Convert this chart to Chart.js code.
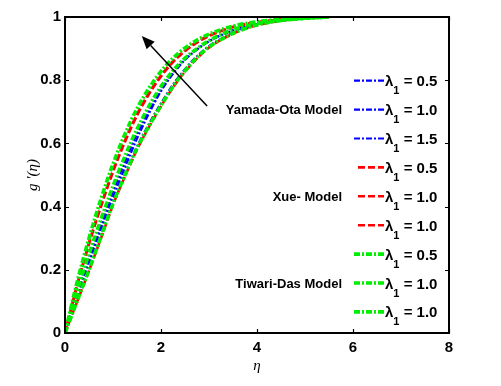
<!DOCTYPE html>
<html><head><meta charset="utf-8">
<script src="https://cdn.jsdelivr.net/npm/chart.js@4"></script>
<style>html,body{margin:0;padding:0;background:#fff}#wrap{width:501px;height:386px}</style>
</head><body><div id="wrap"><canvas id="c" width="501" height="386"></canvas></div>
<script>
// η grid
const eta = [0, 0.25, 0.5, 0.75, 1.0, 1.25, 1.5, 1.75, 2.0, 2.25, 2.5, 2.75, 3.0, 3.5, 4.0, 4.5, 5.0, 5.5];
// Yamada-Ota model
const blue05 = [0, 0.102, 0.205, 0.31, 0.415, 0.505, 0.59, 0.662, 0.727, 0.786, 0.835, 0.876, 0.908, 0.95, 0.976, 0.989, 0.996, 1.0];
const blue10 = [0, 0.115, 0.225, 0.33, 0.43, 0.525, 0.615, 0.695, 0.765, 0.82, 0.864, 0.897, 0.923, 0.957, 0.977, 0.989, 0.996, 1.0];
const blue15 = [0, 0.122, 0.237, 0.345, 0.447, 0.542, 0.63, 0.706, 0.772, 0.825, 0.867, 0.898, 0.924, 0.958, 0.978, 0.99, 0.996, 1.0];
// Xue model
const red05 = [0, 0.098, 0.197, 0.3, 0.405, 0.496, 0.58, 0.652, 0.717, 0.777, 0.827, 0.869, 0.903, 0.947, 0.974, 0.988, 0.996, 1.0];
const red10a = [0, 0.15, 0.285, 0.405, 0.515, 0.61, 0.692, 0.76, 0.815, 0.86, 0.894, 0.921, 0.941, 0.968, 0.983, 0.992, 0.997, 1.0];
const red10b = [0, 0.148, 0.282, 0.40, 0.51, 0.605, 0.688, 0.756, 0.812, 0.857, 0.892, 0.919, 0.94, 0.968, 0.983, 0.992, 0.997, 1.0];
// Tiwari-Das model
const green05 = [0, 0.1, 0.2, 0.305, 0.41, 0.5, 0.585, 0.655, 0.72, 0.78, 0.83, 0.872, 0.905, 0.948, 0.975, 0.989, 0.996, 1.0];
const green10a = [0, 0.13, 0.25, 0.36, 0.465, 0.56, 0.645, 0.718, 0.78, 0.83, 0.87, 0.9, 0.925, 0.96, 0.979, 0.99, 0.996, 1.0];
const green10b = [0, 0.16, 0.30, 0.425, 0.535, 0.63, 0.71, 0.775, 0.828, 0.87, 0.902, 0.927, 0.946, 0.971, 0.985, 0.993, 0.998, 1.0];

const lambdaLabels = ['0.5', '1.0', '1.5', '0.5', '1.0', '1.0', '0.5', '1.0', '1.0'];
const modelNames = ['Yamada-Ota Model', 'Xue- Model', 'Tiwari-Das Model'];
const xTickValues = [0, 2, 4, 6, 8];
const xTickLabels = ['0', '2', '4', '6', '8'];
const yTickValues = [0, 0.2, 0.4, 0.6, 0.8, 1];
const yTickLabels = ['0', '0.2', '0.4', '0.6', '0.8', '1'];
// arrow annotation (data coords): tail -> tip
const arrowTail = [2.96, 0.718];
const arrowTip = [1.6, 0.94];

const SANS = '"Liberation Sans", Arial, Helvetica, sans-serif';
const SERIF = '"Liberation Serif", "Times New Roman", serif';

const seriesList = [blue05, blue10, blue15, red05, red10a, red10b, green05, green10a, green10b];
const styles = [
  {c: '#0000ff', w: 2.2, d: [6, 2, 2, 2]},
  {c: '#0000ff', w: 2.2, d: [6, 2, 2, 2]},
  {c: '#0000ff', w: 2.2, d: [6, 2, 2, 2]},
  {c: '#ff0000', w: 2.6, d: [7, 3]},
  {c: '#ff0000', w: 2.6, d: [7, 3]},
  {c: '#ff0000', w: 2.6, d: [7, 3]},
  {c: '#00ee00', w: 3.6, d: [6, 2, 2, 2]},
  {c: '#00ee00', w: 3.6, d: [6, 2, 2, 2]},
  {c: '#00ee00', w: 3.6, d: [6, 2, 2, 2]}
];

const datasets = seriesList.map((s, i) => ({
  label: 'λ1 = ' + lambdaLabels[i],
  data: eta.map((e, k) => ({x: e, y: s[k]})),
  borderColor: styles[i].c,
  borderWidth: styles[i].w,
  borderDash: styles[i].d,
  pointRadius: 0,
  fill: false,
  cubicInterpolationMode: 'monotone',
  order: 9 - i
}));

const decorPlugin = {
  id: 'decor',
  afterDraw(chart) {
    const ctx = chart.ctx;
    const a = chart.chartArea;
    const xs = chart.scales.x, ys = chart.scales.y;
    ctx.save();
    // box
    ctx.strokeStyle = '#000';
    ctx.lineWidth = 2;
    ctx.setLineDash([]);
    ctx.strokeRect(a.left, a.top, a.right - a.left, a.bottom - a.top);
    // inward ticks
    ctx.lineWidth = 1.2;
    const tl = 4;
    xTickValues.forEach(v => {
      const px = Math.round(xs.getPixelForValue(v)) + 0.5;
      ctx.beginPath();
      ctx.moveTo(px, a.bottom); ctx.lineTo(px, a.bottom - tl);
      ctx.moveTo(px, a.top); ctx.lineTo(px, a.top + tl);
      ctx.stroke();
    });
    yTickValues.forEach(v => {
      const py = Math.round(ys.getPixelForValue(v)) + 0.5;
      ctx.beginPath();
      ctx.moveTo(a.left, py); ctx.lineTo(a.left + tl, py);
      ctx.moveTo(a.right, py); ctx.lineTo(a.right - tl, py);
      ctx.stroke();
    });
    // arrow
    const tx = xs.getPixelForValue(arrowTail[0]), ty = ys.getPixelForValue(arrowTail[1]);
    const hx = xs.getPixelForValue(arrowTip[0]), hy = ys.getPixelForValue(arrowTip[1]);
    const ang = Math.atan2(hy - ty, hx - tx);
    const hl = 13, hw = 5.5;
    const bx = hx - hl * Math.cos(ang), by = hy - hl * Math.sin(ang);
    ctx.lineWidth = 1.5;
    ctx.beginPath(); ctx.moveTo(tx, ty); ctx.lineTo(bx, by); ctx.stroke();
    ctx.fillStyle = '#000';
    ctx.beginPath();
    ctx.moveTo(hx, hy);
    ctx.lineTo(bx + hw * Math.sin(ang), by - hw * Math.cos(ang));
    ctx.lineTo(bx - hw * Math.sin(ang), by + hw * Math.cos(ang));
    ctx.closePath(); ctx.fill();
    // legend
    const rowTop = a.top + 63.7, rowGap = 28.9;
    const lineX0 = a.right - 95, lineX1 = a.right - 65;
    const textX = a.right - 64;
    chart.data.datasets.forEach((ds, i) => {
      const y = rowTop + i * rowGap;
      ctx.strokeStyle = ds.borderColor;
      ctx.lineWidth = ds.borderWidth;
      ctx.setLineDash(ds.borderDash);
      ctx.beginPath();
      ctx.moveTo(i >= 3 && i <= 5 ? lineX0 + 4 : lineX0, y);
      ctx.lineTo(lineX1, y);
      ctx.stroke();
      ctx.setLineDash([]);
      ctx.fillStyle = '#000';
      ctx.textAlign = 'left';
      ctx.textBaseline = 'alphabetic';
      ctx.font = 'bold 15px ' + SANS;
      ctx.fillText('λ', textX, y + 5.5);
      let x = textX + ctx.measureText('λ').width;
      ctx.font = 'bold 11px ' + SANS;
      ctx.fillText('1', x, y + 13.5);
      x += ctx.measureText('1').width;
      ctx.font = 'bold 15px ' + SANS;
      ctx.fillText(' = ' + lambdaLabels[i], x, y + 5.5);
    });
    // model names
    ctx.font = 'bold 13px ' + SANS;
    ctx.textAlign = 'right';
    ctx.textBaseline = 'middle';
    ctx.fillStyle = '#000';
    modelNames.forEach((m, k) => {
      const y = rowTop + (k * 3 + 1) * rowGap;
      ctx.fillText(m, a.right - 107, y + 1);
    });
    ctx.restore();
  }
};

new Chart(document.getElementById('c'), {
  type: 'line',
  data: {datasets},
  options: {
    responsive: false,
    animation: false,
    devicePixelRatio: 1,
    layout: {padding: {top: 17, right: 52, left: 0, bottom: 0}},
    plugins: {legend: {display: false}, tooltip: {enabled: false}},
    scales: {
      x: {
        type: 'linear', min: 0, max: 8,
        afterBuildTicks: s => { s.ticks = xTickValues.map(v => ({value: v})); },
        ticks: {color: '#000', padding: 6, font: {family: SANS, size: 15, weight: 'bold'}, maxRotation: 0,
          callback: (v) => { const k = xTickValues.indexOf(v); return k >= 0 ? xTickLabels[k] : ''; }},
        grid: {display: false, drawTicks: false},
        border: {display: false},
        title: {display: true, text: 'η', color: '#000', font: {family: SERIF, size: 15, style: 'italic', lineHeight: 1.2}, padding: {top: 0, bottom: 11}},
        afterFit: s => { s.height = 53; }
      },
      y: {
        type: 'linear', min: 0, max: 1,
        afterBuildTicks: s => { s.ticks = yTickValues.map(v => ({value: v})); },
        ticks: {color: '#000', padding: 4, font: {family: SANS, size: 15, weight: 'bold'},
          callback: (v) => { const k = yTickValues.indexOf(v); return k >= 0 ? yTickLabels[k] : ''; }},
        grid: {display: false, drawTicks: false},
        border: {display: false},
        title: {display: true, text: "g '(η)", color: '#000', font: {family: SERIF, size: 15, style: 'italic', lineHeight: 1.2}, padding: {top: 24, bottom: 0}},
        afterFit: s => { s.width = 65; }
      }
    }
  },
  plugins: [decorPlugin]
});
</script>
</body></html>
